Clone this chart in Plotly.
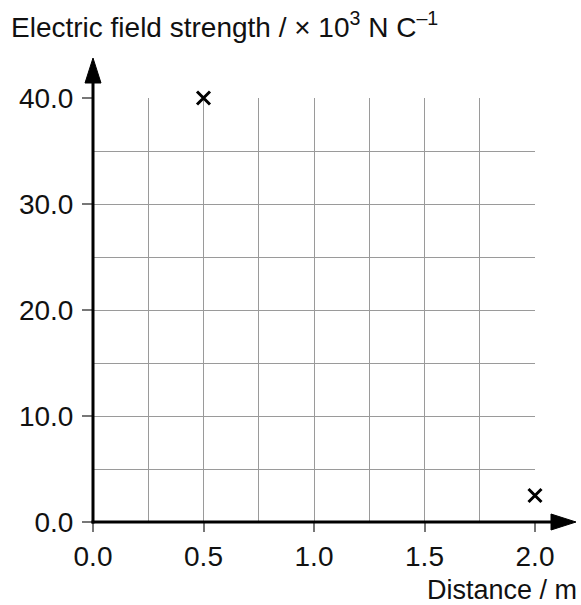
import plotly.graph_objects as go

# data
distance = [0.5, 2.0]          # m
field = [40.0, 2.5]            # x 10^3 N C^-1
x_ticks = [0.0, 0.5, 1.0, 1.5, 2.0]
y_ticks = [0.0, 10.0, 20.0, 30.0, 40.0]

W, H = 581, 605
L, R, T, B = 93, 46, 98, 83
pw, ph = W - L - R, H - T - B
FONT = 'Liberation Sans, Arial, sans-serif'

fig = go.Figure()
fig.add_trace(go.Scatter(x=distance, y=field, mode='markers', cliponaxis=False,
                         marker=dict(symbol='x-thin', size=13, color='black',
                                     line=dict(color='black', width=3)),
                         showlegend=False))

grid = '#9a9a9a'
tickfont = dict(family=FONT, size=28, color='#111')

fig.update_xaxes(range=[0, 2.0], tickvals=x_ticks, tickformat='.1f',
                 ticks='outside', ticklen=9, tickcolor='#777', tickwidth=1.5,
                 showgrid=True, gridcolor=grid, gridwidth=1, zeroline=False,
                 showline=False, tickfont=tickfont,
                 minor=dict(dtick=0.25, showgrid=True, gridcolor=grid, gridwidth=1))
fig.update_yaxes(range=[0, 40.0], tickvals=y_ticks, tickformat='.1f',
                 ticks='outside', ticklen=10, tickcolor='#777', tickwidth=1.5,
                 ticklabelstandoff=3,
                 showgrid=True, gridcolor=grid, gridwidth=1, zeroline=False,
                 showline=False, tickfont=tickfont,
                 minor=dict(dtick=5, showgrid=True, gridcolor=grid, gridwidth=1))

# axis lines (paper refs so they are not clipped by the plot area)
x_tip = (576 - L) / pw
y_tip = (H - B - 58) / ph
fig.add_shape(type='line', xref='paper', yref='paper', x0=-1.5 / pw, y0=0, x1=x_tip - 10 / pw, y1=0,
              line=dict(color='black', width=3))
fig.add_shape(type='line', xref='paper', yref='paper', x0=0, y0=-1.5 / ph, x1=0, y1=y_tip - 10 / ph,
              line=dict(color='black', width=3))
# arrow heads
fig.add_shape(type='path', xref='paper', yref='paper', xsizemode='pixel', ysizemode='pixel',
              xanchor=x_tip, yanchor=0, path='M0,0 L-25,8 L-25,-8 Z',
              fillcolor='black', line=dict(color='black', width=1))
fig.add_shape(type='path', xref='paper', yref='paper', xsizemode='pixel', ysizemode='pixel',
              xanchor=0, yanchor=y_tip, path='M0,0 L-8,-25 L8,-25 Z',
              fillcolor='black', line=dict(color='black', width=1))

# x-axis title, bottom right
fig.add_annotation(xref='paper', yref='paper', x=(579 - L) / pw, y=-(590 - (H - B)) / ph,
                   xanchor='right', yanchor='middle', showarrow=False,
                   text='Distance / m', font=dict(family=FONT, size=27, color='#111'))

fig.update_layout(
    width=W, height=H,
    margin=dict(l=L, r=R, t=T, b=B),
    plot_bgcolor='white', paper_bgcolor='white',
    title=dict(text='Electric field strength / × 10<sup>3</sup> N C<sup>–1</sup>',
               xref='container', x=11 / W, xanchor='left',
               yref='container', y=1 - 27 / H, yanchor='middle',
               font=dict(family=FONT, size=28, color='#111')),
    showlegend=False,
)

fig.write_html("out.html", config={'displayModeBar': False},
               post_script="document.body.style.margin='0';")
